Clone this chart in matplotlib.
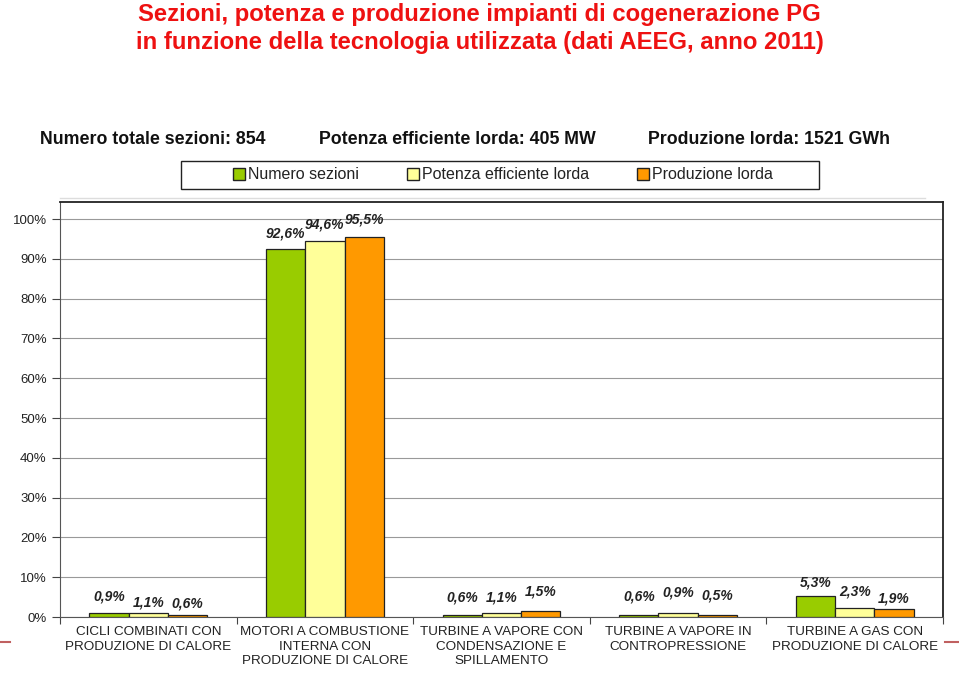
import numpy as np
import matplotlib.pyplot as plt
from matplotlib.patches import Patch, Rectangle

plt.rcParams['font.family'] = ['Liberation Sans', 'DejaVu Sans']

# dati
categorie = ['CICLI COMBINATI CON\nPRODUZIONE DI CALORE',
             'MOTORI A COMBUSTIONE\nINTERNA CON\nPRODUZIONE DI CALORE',
             'TURBINE A VAPORE CON\nCONDENSAZIONE E\nSPILLAMENTO',
             'TURBINE A VAPORE IN\nCONTROPRESSIONE',
             'TURBINE A GAS CON\nPRODUZIONE DI CALORE']
serie = ['Numero sezioni', 'Potenza efficiente lorda', 'Produzione lorda']
numero_sezioni = [0.9, 92.6, 0.6, 0.6, 5.3]
potenza = [1.1, 94.6, 1.1, 0.9, 2.3]
produzione = [0.6, 95.5, 1.5, 0.5, 1.9]
yticks = [0, 10, 20, 30, 40, 50, 60, 70, 80, 90, 100]
colori = ['#99CC00', '#FFFF99', '#FF9900']
# distanza verticale (pixel) tra valore e centro dell'etichetta
offsets = [[17, 10, 11], [15, 16, 18], [17, 15, 20], [18, 21, 20], [13, 16, 11]]

fig = plt.figure(figsize=(9.59, 6.84), dpi=100)
ax = fig.add_axes([60 / 959, 1 - 617 / 684, 883 / 959, 415 / 684])

x = np.arange(len(categorie))
w = 0.222
valori = [numero_sezioni, potenza, produzione]
for i, (vals, col) in enumerate(zip(valori, colori)):
    pos = x + (i - 1) * w
    ax.bar(pos, vals, width=w, color=col, edgecolor='#222222', linewidth=0.9, zorder=3)
    for j, (px, v) in enumerate(zip(pos, vals)):
        ax.annotate(f'{v:.1f}%'.replace('.', ','), (px, v), xytext=(0, offsets[j][i]),
                    textcoords='offset pixels', ha='center', va='center',
                    fontsize=10, fontweight='bold', fontstyle='italic', color='#222222')

ax.set_xlim(-0.5, len(categorie) - 0.5)
ax.set_ylim(0, 104.3)
ax.set_yticks(yticks)
ax.set_yticklabels([f'{t}%' for t in yticks], fontsize=9.5, color='#222222')
ax.yaxis.grid(True, color='#999999', linewidth=0.8, zorder=0)
ax.set_xticks(np.arange(len(categorie) + 1) - 0.5)
ax.set_xticklabels([])
ax.tick_params(axis='x', length=5, color='#444444')
ax.tick_params(axis='y', length=6, color='#444444')
for j, c in enumerate(categorie):
    ax.text(j, -2.3, c, ha='center', va='top', fontsize=9.7, color='#222222', linespacing=1.28)
for s in ['left', 'bottom']:
    ax.spines[s].set_color('#555555')
for s in ['top', 'right']:
    ax.spines[s].set_color('#222222')
    ax.spines[s].set_linewidth(1.3)

# titolo
fig.text(0.5, 1 - 14 / 684, 'Sezioni, potenza e produzione impianti di cogenerazione PG',
         ha='center', va='center', fontsize=17.2, fontweight='bold', color='#EE1111')
fig.text(0.5, 1 - 42 / 684, 'in funzione della tecnologia utilizzata (dati AEEG, anno 2011)',
         ha='center', va='center', fontsize=17.2, fontweight='bold', color='#EE1111')

# intestazione
fig.text(40 / 959, 1 - 140 / 684, 'Numero totale sezioni: 854', ha='left', va='center',
         fontsize=12.8, fontweight='bold', color='#111111')
fig.text(319 / 959, 1 - 140 / 684, 'Potenza efficiente lorda: 405 MW', ha='left', va='center',
         fontsize=12.8, fontweight='bold', color='#111111')
fig.text(648 / 959, 1 - 140 / 684, 'Produzione lorda: 1521 GWh', ha='left', va='center',
         fontsize=12.8, fontweight='bold', color='#111111')

# riquadro legenda
fig.add_artist(Rectangle((181 / 959, 1 - 189 / 684), 638 / 959, 28 / 684,
                         transform=fig.transFigure, facecolor='white',
                         edgecolor='#222222', linewidth=1.0))
handles = [Patch(facecolor=c, edgecolor='#222222', label=s) for c, s in zip(colori, serie)]
leg = fig.legend(handles=handles, loc='center', ncol=3,
                 bbox_to_anchor=(503 / 959, 1 - 175 / 684), fontsize=11.5,
                 frameon=False, handlelength=0.75, handleheight=0.75, handletextpad=0.2,
                 columnspacing=3.0, borderpad=0.3, borderaxespad=0)
for lt in leg.get_texts():
    lt.set_color('#222222')

# linee decorative
fig.add_artist(plt.Line2D([60 / 959, 925 / 959], [1 - 198 / 684] * 2, color='#dddddd', lw=1))
fig.add_artist(plt.Line2D([0, 10 / 959], [1 - 642 / 684] * 2, color='#c06060', lw=1.5))
fig.add_artist(plt.Line2D([945 / 959, 1], [1 - 642 / 684] * 2, color='#c06060', lw=1.5))

fig.savefig('out.png', dpi=100)
